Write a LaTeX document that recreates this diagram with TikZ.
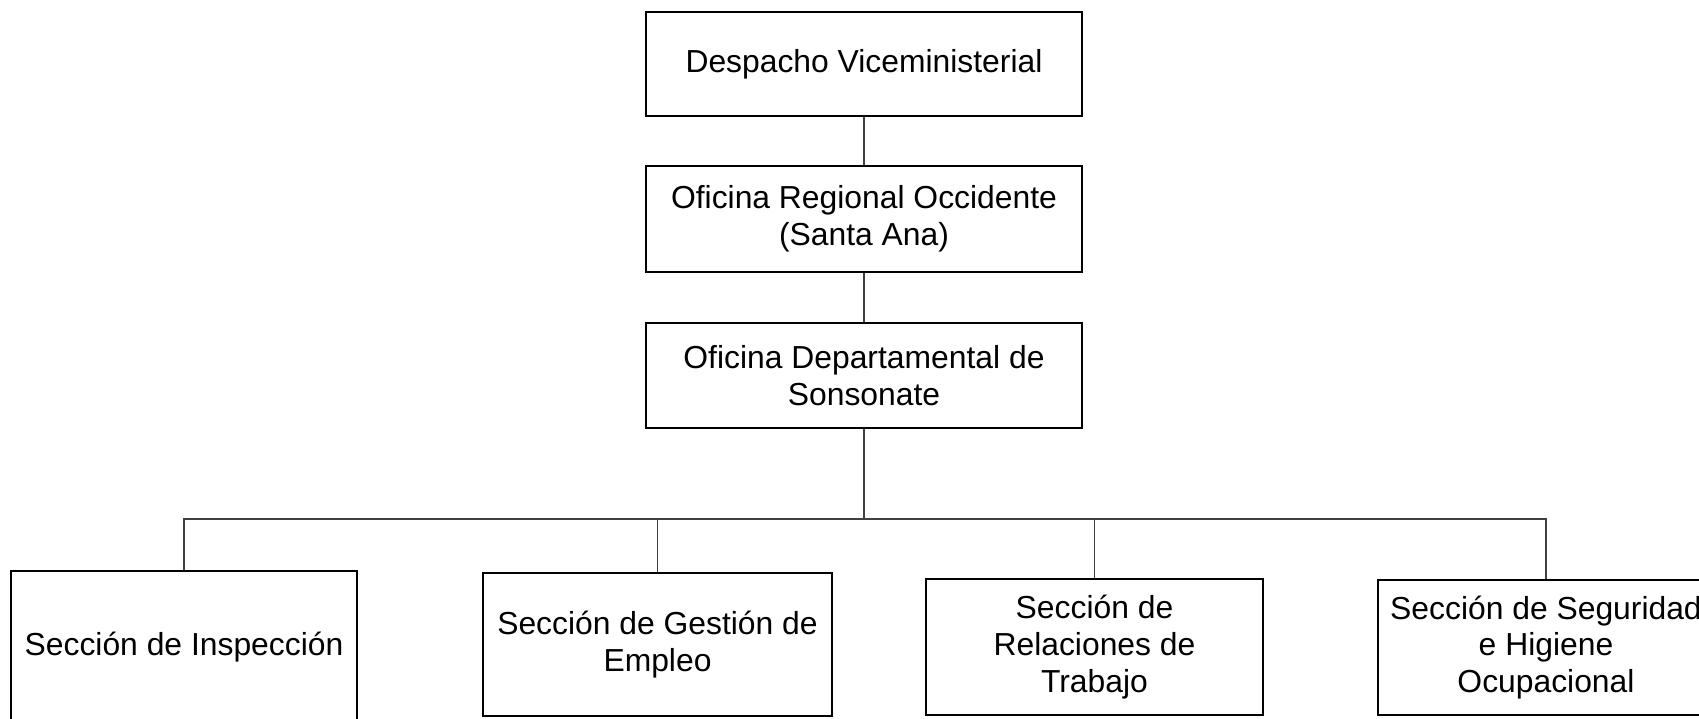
\documentclass[tikz,border=0pt]{standalone}
\usepackage{fontspec}
\setmainfont{Liberation Sans}
\usetikzlibrary{positioning}

\begin{document}
\begin{tikzpicture}[box/.style={draw, line width=0.5pt, align=center, inner sep=0pt,
                    font=\fontsize{9.06}{10.42}\selectfont},
                    link/.style={draw=black!75, line width=0.4pt}]
      \clip (0,0) rectangle (16.99,-7.18);
      \begin{scope}
        \node[box, minimum width=4.36cm, minimum height=1.04cm] (d1) at (8.64,-0.64) {Despacho Viceministerial};
        \node[box, minimum width=4.36cm, minimum height=1.06cm] (r1) at (8.64,-2.19) {Oficina Regional Occidente\\(Santa Ana)};
        \node[box, minimum width=4.36cm, minimum height=1.05cm] (o1) at (8.64,-3.755) {Oficina Departamental de\\Sonsonate};
        \coordinate (bus) at (8.64,-5.19);
        \node[box, minimum width=3.46cm, minimum height=1.52cm] (sec1) at (1.84,-6.47) {Sección de Inspección};
        \node[box, minimum width=3.49cm, minimum height=1.43cm] (sec2) at (6.575,-6.445) {Sección de Gestión de\\Empleo};
        \node[box, minimum width=3.37cm, minimum height=1.36cm] (sec3) at (10.945,-6.47) {Sección de\\Relaciones de\\Trabajo};
        \node[box, minimum width=3.36cm, minimum height=1.35cm] (sec4) at (15.46,-6.475) {Sección de Seguridad\\e Higiene\\Ocupacional};
        %\node at (8.64,-4.7) {+};
        \draw[link] (d1) -- (r1);
        \draw[link] (r1) -- (o1);
        \draw[link] (o1) -- (bus);
        \draw[link] (sec1.north) |- (bus) -| (sec4.north);
        \draw[link] (sec2) -- (sec2 |- bus);
        \draw[link] (sec3) -- (sec3 |- bus);
      \end{scope}
    \end{tikzpicture}
\end{document}
